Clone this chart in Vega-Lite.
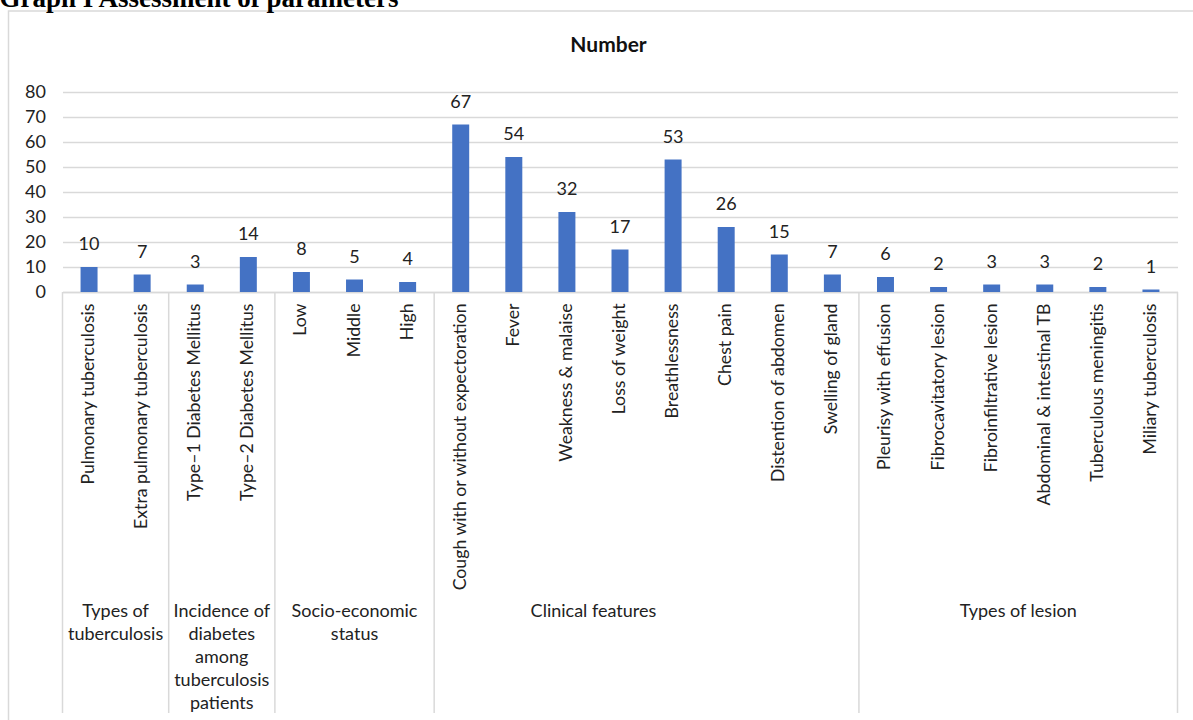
{
  "$schema": "https://vega.github.io/schema/vega-lite/v6.json",
  "autosize": "none",
  "width": 1115,
  "height": 200,
  "padding": {"left": 62.5, "top": 92, "right": 15.5, "bottom": 428},
  "background": "white",
  "title": {
    "text": "Graph I Assessment of parameters",
    "anchor": "start",
    "frame": "group",
    "font": "Liberation Serif",
    "fontSize": 27,
    "fontWeight": "bold",
    "color": "#000000",
    "baseline": "alphabetic",
    "dx": -63,
    "offset": -24
  },
  "config": {
    "view": {"stroke": null},
    "font": "Lato",
    "text": {"font": "Lato", "fontSize": 18, "color": "#222222"},
    "axisX": {
      "labelAngle": -90,
      "labelFontSize": 17.7,
      "labelColor": "#222222",
      "labelFont": "Lato",
      "labelPadding": 11,
      "labelLimit": 500,
      "ticks": false,
      "domainColor": "#D9D9D9",
      "domainWidth": 1.5
    },
    "axisY": {
      "labelOverlap": false,
      "titleAngle": 0,
      "titleX": 545.5,
      "titleY": -47,
      "titleAlign": "center",
      "titleBaseline": "middle",
      "titleFont": "Lato",
      "titleFontSize": 21,
      "titleFontWeight": "bold",
      "titleColor": "#111111",
      "labelFontSize": 18,
      "labelFont": "Lato",
      "labelColor": "#222222",
      "labelPadding": 17,
      "ticks": false,
      "domain": false,
      "gridColor": "#D9D9D9",
      "gridWidth": 1.5
    }
  },
  "datasets": {
    "bars": [
      {"category": "Pulmonary tuberculosis", "value": 10, "group": "Types of tuberculosis"},
      {"category": "Extra pulmonary tuberculosis", "value": 7, "group": "Types of tuberculosis"},
      {"category": "Type–1 Diabetes Mellitus", "value": 3, "group": "Incidence of diabetes among tuberculosis patients"},
      {"category": "Type–2 Diabetes Mellitus", "value": 14, "group": "Incidence of diabetes among tuberculosis patients"},
      {"category": "Low", "value": 8, "group": "Socio-economic status"},
      {"category": "Middle", "value": 5, "group": "Socio-economic status"},
      {"category": "High", "value": 4, "group": "Socio-economic status"},
      {"category": "Cough with or without expectoration", "value": 67, "group": "Clinical features"},
      {"category": "Fever", "value": 54, "group": "Clinical features"},
      {"category": "Weakness & malaise", "value": 32, "group": "Clinical features"},
      {"category": "Loss of weight", "value": 17, "group": "Clinical features"},
      {"category": "Breathlessness", "value": 53, "group": "Clinical features"},
      {"category": "Chest pain", "value": 26, "group": "Clinical features"},
      {"category": "Distention of abdomen", "value": 15, "group": "Clinical features"},
      {"category": "Swelling of gland", "value": 7, "group": "Clinical features"},
      {"category": "Pleurisy with effusion", "value": 6, "group": "Types of lesion"},
      {"category": "Fibrocavitatory lesion", "value": 2, "group": "Types of lesion"},
      {"category": "Fibroinfiltrative lesion", "value": 3, "group": "Types of lesion"},
      {"category": "Abdominal & intestinal TB", "value": 3, "group": "Types of lesion"},
      {"category": "Tuberculous meningitis", "value": 2, "group": "Types of lesion"},
      {"category": "Miliary tuberculosis", "value": 1, "group": "Types of lesion"}
    ],
    "groups": [
      {"group": "Types of tuberculosis", "lines": ["Types of", "tuberculosis"], "first": "Pulmonary tuberculosis", "mid": "Extra pulmonary tuberculosis"},
      {"group": "Incidence of diabetes among tuberculosis patients", "lines": ["Incidence of", "diabetes", "among", "tuberculosis", "patients"], "first": "Type–1 Diabetes Mellitus", "mid": "Type–2 Diabetes Mellitus"},
      {"group": "Socio-economic status", "lines": ["Socio-economic", "status"], "first": "Low", "mid": "Middle"},
      {"group": "Clinical features", "lines": ["Clinical features"], "first": "Cough with or without expectoration", "mid": "Loss of weight"},
      {"group": "Types of lesion", "lines": ["Types of lesion"], "first": "Pleurisy with effusion", "mid": "Abdominal & intestinal TB"}
    ]
  },
  "layer": [
    {
      "data": {"name": "bars"},
      "mark": {"type": "bar", "color": "#4472C4", "width": {"band": 0.32}},
      "encoding": {
        "x": {
          "field": "category",
          "type": "nominal",
          "sort": null,
          "title": null,
          "scale": {
            "domain": ["Pulmonary tuberculosis", "Extra pulmonary tuberculosis", "Type–1 Diabetes Mellitus", "Type–2 Diabetes Mellitus", "Low", "Middle", "High", "Cough with or without expectoration", "Fever", "Weakness & malaise", "Loss of weight", "Breathlessness", "Chest pain", "Distention of abdomen", "Swelling of gland", "Pleurisy with effusion", "Fibrocavitatory lesion", "Fibroinfiltrative lesion", "Abdominal & intestinal TB", "Tuberculous meningitis", "Miliary tuberculosis"],
            "paddingInner": 0,
            "paddingOuter": 0
          }
        },
        "y": {
          "field": "value",
          "type": "quantitative",
          "title": "Number",
          "scale": {"domain": [0, 80], "nice": false},
          "axis": {"values": [0, 10, 20, 30, 40, 50, 60, 70, 80]}
        }
      }
    },
    {
      "data": {"name": "bars"},
      "mark": {"type": "text", "baseline": "middle", "align": "center", "dy": -22},
      "encoding": {
        "x": {"field": "category", "type": "nominal", "sort": null, "title": null},
        "y": {"field": "value", "type": "quantitative", "title": "Number", "axis": {"values": [0, 10, 20, 30, 40, 50, 60, 70, 80]}},
        "text": {"field": "value", "type": "quantitative"}
      }
    },
    {
      "data": {"name": "groups"},
      "mark": {"type": "rule", "color": "#D9D9D9", "strokeWidth": 1.5},
      "encoding": {
        "x": {"field": "first", "type": "nominal", "sort": null, "bandPosition": 0, "title": null},
        "y": {"datum": 0, "title": "Number", "axis": {"values": [0, 10, 20, 30, 40, 50, 60, 70, 80]}},
        "y2": {"datum": -168.4}
      }
    },
    {
      "data": {"name": "groups"},
      "transform": [{"filter": "datum.group === 'Types of lesion'"}],
      "mark": {"type": "rule", "color": "#D9D9D9", "strokeWidth": 1.5},
      "encoding": {
        "x": {"datum": "Miliary tuberculosis", "bandPosition": 1, "title": null},
        "y": {"datum": 0, "title": "Number", "axis": {"values": [0, 10, 20, 30, 40, 50, 60, 70, 80]}},
        "y2": {"datum": -168.4}
      }
    },
    {
      "data": {"name": "groups"},
      "transform": [{"filter": "datum.group !== 'Socio-economic status'"}],
      "mark": {"type": "text", "baseline": "top", "align": "center", "lineHeight": 23, "dy": 311},
      "encoding": {
        "x": {"field": "mid", "type": "nominal", "sort": null, "bandPosition": 0, "title": null},
        "y": {"datum": 0, "title": "Number", "axis": {"values": [0, 10, 20, 30, 40, 50, 60, 70, 80]}},
        "text": {"field": "lines"}
      }
    },
    {
      "data": {"name": "groups"},
      "transform": [{"filter": "datum.group === 'Socio-economic status'"}],
      "mark": {"type": "text", "baseline": "top", "align": "center", "lineHeight": 23, "dy": 311},
      "encoding": {
        "x": {"field": "mid", "type": "nominal", "sort": null, "bandPosition": 0.5, "title": null},
        "y": {"datum": 0, "title": "Number", "axis": {"values": [0, 10, 20, 30, 40, 50, 60, 70, 80]}},
        "text": {"field": "lines"}
      }
    },
    {
      "data": {"name": "groups"},
      "transform": [{"filter": "datum.group === 'Clinical features'"}],
      "mark": {"type": "rect", "fill": null, "stroke": "#D9D9D9", "strokeWidth": 1.5},
      "encoding": {
        "x": {"datum": "Pulmonary tuberculosis", "bandPosition": -1.017, "title": null},
        "x2": {"datum": "Miliary tuberculosis", "bandPosition": 1.4},
        "y": {"datum": 112.4, "title": "Number", "axis": {"values": [0, 10, 20, 30, 40, 50, 60, 70, 80]}},
        "y2": {"datum": -176}
      }
    }
  ]
}
